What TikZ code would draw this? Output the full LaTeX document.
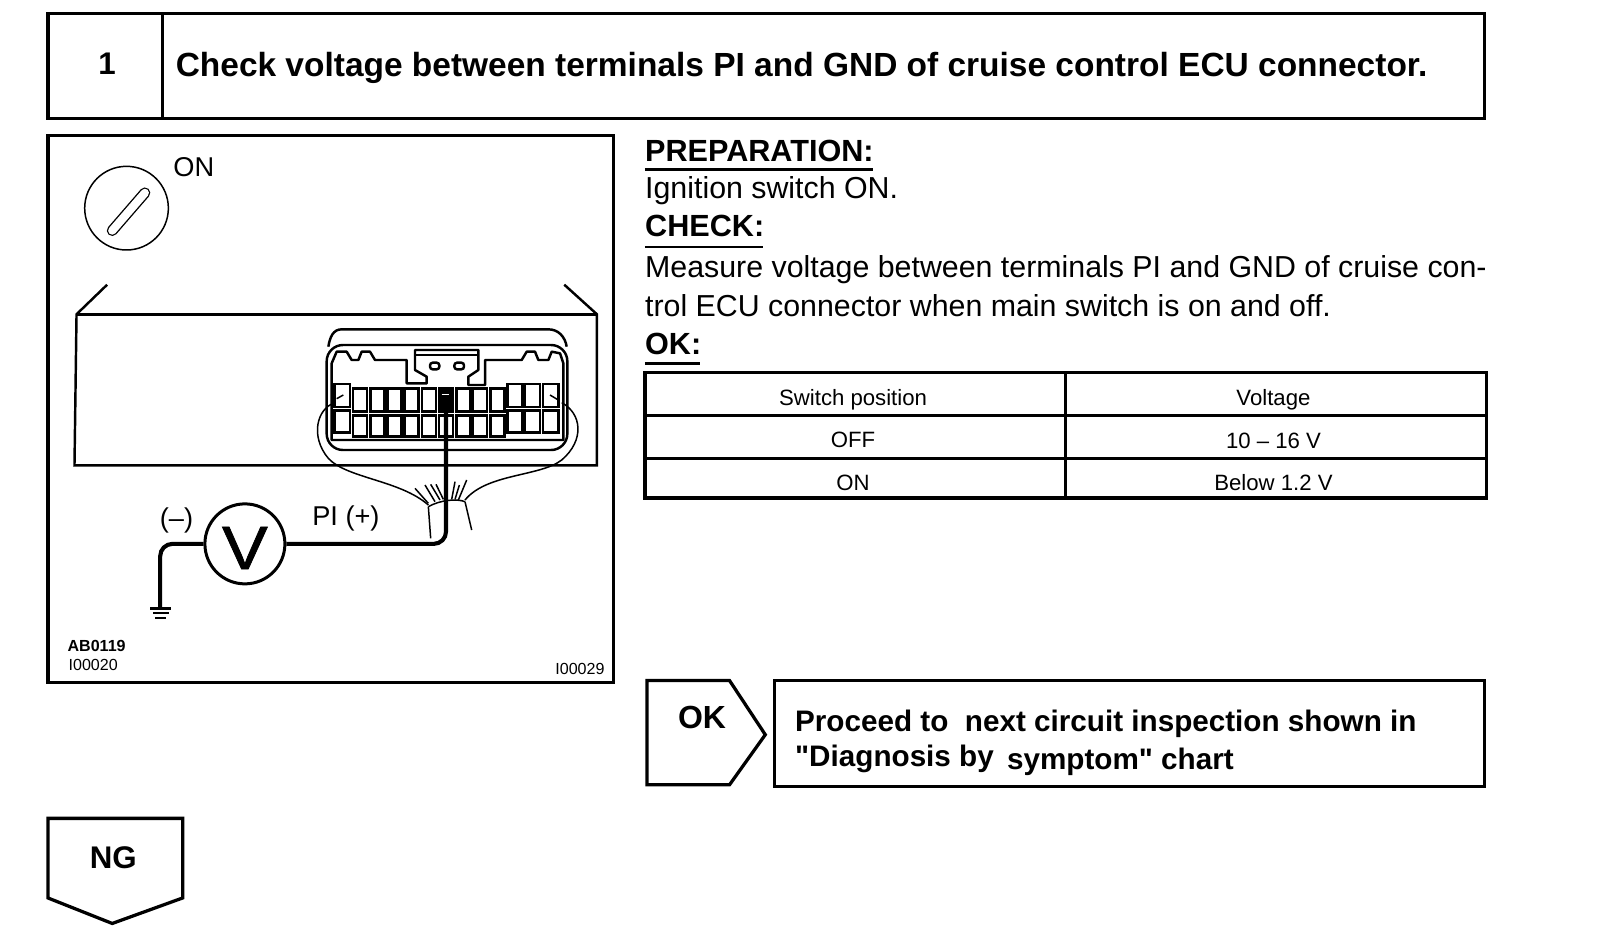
\documentclass[tikz,border=0pt]{standalone}
\usepackage{fontspec}
\setmainfont{Liberation Sans}[Ligatures=TeXOff]
\newcommand{\fsz}[1]{\fontsize{#1}{#1}\selectfont}
\begin{document}
\begin{tikzpicture}[x=0.75pt,y=-0.75pt]
    \tikzstyle{every node}=[inner sep=0pt]
    \tikzstyle{heavy}=[line width=2.4pt]
    \tikzstyle{outline}=[line width=1.8pt]
    \tikzstyle{thin line}=[line width=1.1pt]
    \tikzstyle{pin}=[line width=2pt,fill=white]
    \tikzstyle{bigpin}=[line width=1.8pt,fill=white]
    \tikzstyle{wire}=[line width=3pt,rounded corners=9pt]
    \tikzstyle{title}=[anchor=base west,font=\fsz{24.6}\bfseries]
    \tikzstyle{heading}=[anchor=base west,font=\fsz{22.5}\bfseries]
    \tikzstyle{body}=[anchor=base west,font=\fsz{22.3}]
    \tikzstyle{cell}=[anchor=base,font=\fsz{16.3}]
    \tikzstyle{tiny}=[anchor=base west,font=\fsz{11.8}]
    \useasboundingbox[fill=white] (0,0) rectangle (1568,919.24);

    \draw[heavy] (47,13) rectangle (1455,116);
    \draw[heavy] (159,13) -- (159,116);
    \node[anchor=base,font=\fsz{23}\bfseries] (stepnum) at (105,73) {1};
    \node[title] (steptitle) at (172,75) {Check voltage between terminals PI and GND of cruise control ECU connector.};

    \draw[heavy] (47,133) rectangle (601,669);
    \node[font=\fsz{20}] (onlabel) at (190,164) {ON};
    \draw[thin line] (124,204) circle (41);
    \draw[double,double distance=6pt,line width=1pt,line cap=round] (110,226) -- (142,189);

    \draw[outline] (105,279) -- (75,308) -- (73,456) -- (585,456) -- (585,308) -- (553,279);
    \draw[outline] (75,308) -- (585,308);

    \begin{scope}[shift={(294,294)},scale=0.3267]
        \draw[outline,fill=white,rounded corners=12pt] (80,135) rectangle (802,450);
        \draw[outline] (85,140) .. controls (90,110) and (100,88) .. (125,88) -- (745,88) .. controls (775,88) and (795,110) .. (800,140);
        \draw[outline,line join=round] (95,420) -- (95,190) -- (110,155) -- (140,155) -- (155,180) -- (175,180) -- (185,155) -- (210,155) -- (225,180) -- (320,180) -- (320,250) -- (380,250) -- (380,230) -- (345,210) -- (345,150) -- (535,150) -- (535,210) -- (505,230) -- (505,255) -- (555,255) -- (555,180) -- (665,180) -- (680,155) -- (705,155) -- (715,180) -- (745,180) -- (755,155) -- (780,160) -- (790,190) -- (790,420) -- cycle;
        \draw[thin line] (345,165) -- (535,165);
        \draw[outline,rounded corners=2pt] (390,188) rectangle (418,208);
        \draw[outline,rounded corners=2pt] (463,188) rectangle (492,208);
        \foreach \x in {180,232,284,335,387,438,490,540,592} {
            \draw[pin] (\x-21,266) rectangle (\x+21,334);
            \draw[pin] (\x-21,346) rectangle (\x+21,409);
        }
        \foreach \x in {127,645,697,752} {
            \draw[bigpin] (\x-23,252) rectangle (\x+23,321);
            \draw[bigpin] (\x-23,332) rectangle (\x+23,398);
        }
        \draw[thin line] (110,296) -- (130,285);
        \draw[thin line] (750,285) -- (775,300);
        \node[fill=black,minimum width=12.2pt,minimum height=15pt] (probe) at (438,300) {};
        \draw[white,line width=1pt] (425,284) -- (448,284);
        \draw[thin line] (105,308) .. controls (50,325) and (30,410) .. (85,475) .. controls (140,535) and (300,540) .. (385,615);
        \draw[thin line] (785,308) .. controls (845,340) and (855,420) .. (785,480) .. controls (720,530) and (560,520) .. (495,600);
        \draw[thin line] (385,620) .. controls (420,600) and (470,595) .. (495,605);
        \draw[thin line] (385,620) -- (392,715);
        \draw[thin line] (495,605) -- (515,690);
        \draw[thin line] (345,565) -- (385,610);
        \draw[thin line] (375,555) -- (405,605);
        \draw[thin line] (392,553) -- (420,600);
        \draw[thin line] (408,553) -- (430,598);
        \draw[thin line] (465,545) -- (455,598);
        \draw[thin line] (478,555) -- (465,598);
        \draw[thin line] (500,540) -- (475,600);
    \end{scope}

    \node[circle,draw,line width=2.2pt,minimum size=58.8pt] (vmeter) at (240,533) {};
    \node[font=\fsz{45}\addfontfeature{FakeBold=1.2}] (vsym) at (240,537) {\scalebox{1.12}[1]{V}};
    \coordinate (gnd) at (157,596);
    \draw[wire] (vmeter) -| (gnd);
    \draw[wire] (vmeter) -| (probe);
    \draw[line width=2pt] (147,596) -- (168,596);
    \draw[line width=1.6pt] (150,601) -- (166,601);
    \draw[line width=1.6pt] (152,606) -- (163,606);
    \node[font=\fsz{20}] (minuslabel) at (173,510) {(–)};
    \node[font=\fsz{20}] (pilabel) at (339,508.5) {PI (+)};
    \node[tiny] (codea) at (66,638) {\textbf{AB0119}};
    \node[tiny] (codeb) at (67,657) {I00020};
    \node[tiny] (codec) at (544,661) {I00029};

    \node[heading] (prep) at (632,158) {PREPARATION:};
    \draw[outline] (632,166) -- (856,166);
    \node[body] (prepline) at (632,195) {Ignition switch ON.};
    \node[heading] (check) at (632,232) {CHECK:};
    \draw[outline] (632,242) -- (748,242);
    \node[body] (checka) at (632,272) {Measure voltage between terminals PI and GND of cruise con-};
    \node[body] (checkb) at (632,310) {trol ECU connector when main switch is on and off.};
    \node[heading] (okhead) at (632,347) {OK:};
    \draw[heavy] (632,356) -- (686,356);

    \draw[heavy] (632,365) rectangle (1457,488);
    \draw[heavy] (1044,365) -- (1044,488);
    \draw[heavy] (632,407) -- (1457,407);
    \draw[heavy] (632,449) -- (1457,449);
    \node[cell] (sw) at (836,397) {Switch position};
    \node[cell] (volt) at (1248,397) {Voltage};
    \node[cell] (off) at (836,439) {OFF};
    \node[cell] (offv) at (1248,440) {10 – 16 V};
    \node[cell] (on) at (836,481) {ON};
    \node[cell] (onv) at (1248,481) {Below 1.2 V};

    \draw[heavy] (634,667) -- (715,667) -- (750,720) -- (715,769) -- (634,769) -- cycle;
    \node[font=\fsz{23.5}\bfseries] (oktag) at (688,703) {OK};
    \draw[heavy] (759,667) rectangle (1455,771);
    \node[anchor=base west,font=\fsz{21.8}\bfseries] (proca) at (779,717) {Proceed to\ \ next circuit inspection shown in};
    \node[anchor=base west,font=\fsz{21.8}\bfseries] (procb) at (779,751) {"Diagnosis by\ \kern3.7pt\raisebox{-2pt}{symptom" chart}};

    \draw[heavy] (47,802) -- (179,802) -- (179,880) -- (110,905) -- (47,880) -- cycle;
    \node[font=\fsz{23}\bfseries] (ngtag) at (111,841) {NG};
\end{tikzpicture}
\end{document}
